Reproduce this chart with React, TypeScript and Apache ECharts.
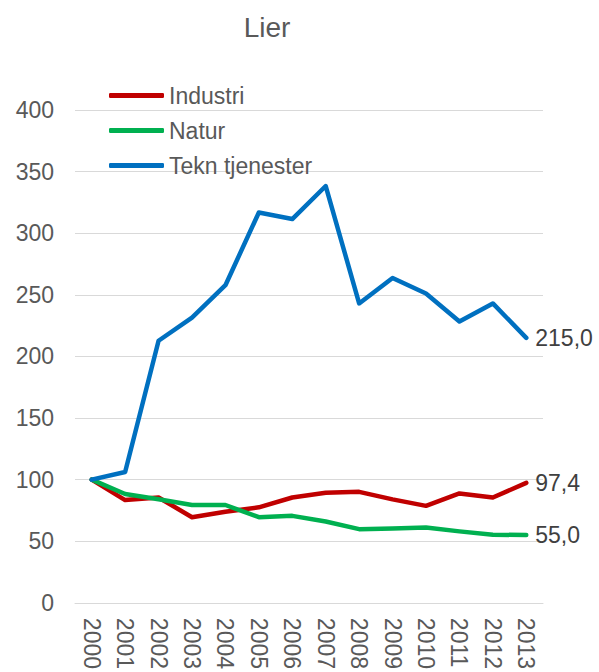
import React, { useEffect, useRef } from "react";
import * as echarts from "echarts";

const years = ["2000","2001","2002","2003","2004","2005","2006","2007","2008","2009","2010","2011","2012","2013"];
const industri = [100, 83.4, 85.5, 69.5, 74, 77.5, 85.5, 89.3, 90.1, 84, 78.7, 88.8, 85.5, 97.4];
const natur = [100, 88.3, 84, 79.4, 79.4, 69.5, 70.6, 66, 59.8, 60.4, 61.2, 58, 55.3, 55.0];
const tekn = [100, 106.2, 212.7, 231.5, 257.8, 316.8, 311.5, 338.3, 243, 263.7, 251.1, 228.3, 243, 215.0];

const FONT = "Liberation Sans, Arial, sans-serif";
const FS = 23;

export default function App() {
  const ref = useRef<HTMLDivElement>(null);
  useEffect(() => {
    const chart = echarts.init(ref.current!, null, { renderer: "svg" });
    const mk = (name: string, data: number[], color: string) => ({
      name,
      type: "line",
      data,
      symbol: "none",
      lineStyle: { width: 4.5, color, cap: "round", join: "round" },
      itemStyle: { color },
      endLabel: {
        show: true,
        formatter: (p: any) => Number(p.value).toFixed(1).replace(".", ","),
        color: "#404040",
        fontSize: FS,
        fontFamily: FONT,
        distance: 9,
      },
    });
    chart.setOption({
      animation: false,
      title: {
        text: "Lier",
        left: 262,
        top: 8,
        textAlign: "center",
        textStyle: { color: "#595959", fontSize: 28, fontWeight: "normal", fontFamily: FONT },
      },
      legend: {
        orient: "vertical",
        left: 104,
        top: 79,
        itemWidth: 55,
        itemHeight: 5,
        itemGap: 12,
        icon: "roundRect",
        textStyle: { color: "#595959", fontSize: FS, fontFamily: FONT },
        data: ["Industri", "Natur", "Tekn tjenester"],
      },
      grid: { left: 75, right: 56, top: 110, bottom: 65, containLabel: false },
      xAxis: {
        type: "category",
        data: years,
        boundaryGap: true,
        axisLine: { lineStyle: { color: "#d9d9d9", width: 1 } },
        axisTick: { show: false },
        axisLabel: { rotate: -90, color: "#595959", fontSize: FS, fontFamily: FONT, margin: 15, interval: 0 },
      },
      yAxis: {
        type: "value",
        min: 0,
        max: 400,
        interval: 50,
        axisLine: { show: false },
        axisTick: { show: false },
        splitLine: { lineStyle: { color: "#d9d9d9", width: 1 } },
        axisLabel: { color: "#595959", fontSize: FS, fontFamily: FONT, margin: 21 },
      },
      series: [
        mk("Industri", industri, "#C00000"),
        mk("Natur", natur, "#00B050"),
        mk("Tekn tjenester", tekn, "#0070C0"),
      ],
    });
    return () => chart.dispose();
  }, []);
  return <div ref={ref} style={{ position: "fixed", left: 0, top: 0, width: 599, height: 672, background: "#fff" }} />;
}
